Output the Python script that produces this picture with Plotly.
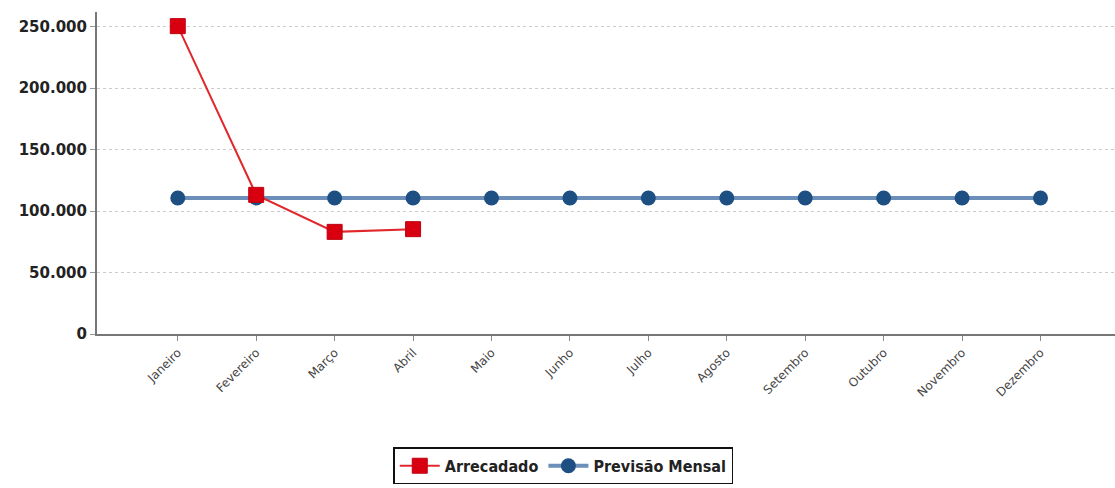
import plotly.graph_objects as go

meses = ["Janeiro", "Fevereiro", "Março", "Abril", "Maio", "Junho", "Julho",
         "Agosto", "Setembro", "Outubro", "Novembro", "Dezembro"]
arrecadado = [250500, 113200, 83100, 85300]
previsao = [110700] * 12
y_ticks = [0, 50000, 100000, 150000, 200000, 250000]

fig = go.Figure()

fig.add_trace(go.Scatter(
    x=meses, y=previsao, name="Previsão Mensal", mode="lines+markers",
    line=dict(color="#6b8fb8", width=4),
    marker=dict(symbol="circle", size=15, color="#1d4f82",
                line=dict(color="#1d4f82", width=0)),
))
fig.add_trace(go.Scatter(
    x=meses[:len(arrecadado)], y=arrecadado, name="Arrecadado", mode="lines+markers",
    line=dict(color="#e0282c", width=2),
    marker=dict(symbol="square", size=15, color="#d80010",
                line=dict(color="#c00010", width=1)),
))

fig.update_layout(
    width=1115, height=488,
    margin=dict(l=97, r=0, t=12, b=154),
    paper_bgcolor="white", plot_bgcolor="white",
    separators=",.",
    showlegend=True,
    legend=dict(
        orientation="h", x=0.458, xanchor="center", y=-0.352, yanchor="top",
        bordercolor="#111111", borderwidth=1.5,
        font=dict(family="DejaVu Sans Condensed, DejaVu Sans", size=16,
                  color="#222222", weight="bold"),
        traceorder="reversed", itemwidth=40,
    ),
    font=dict(family="DejaVu Sans", color="#333333"),
)

fig.update_xaxes(
    type="category", range=[-1.03, 11.95],
    showline=True, linecolor="#777777", linewidth=2,
    ticks="outside", ticklen=5, tickcolor="#888888",
    tickangle=-45, tickfont=dict(family="DejaVu Sans", size=12, color="#444444"),
    showgrid=False,
)
fig.update_yaxes(
    range=[0, 262000], tickvals=y_ticks, tickformat=",d",
    showline=True, linecolor="#777777", linewidth=2,
    ticks="outside", ticklen=5, tickcolor="#999999",
    tickfont=dict(family="DejaVu Sans", size=15, color="#222222", weight="bold"),
    showgrid=True, gridcolor="#cccccc", griddash="dot", gridwidth=1,
    zeroline=False,
)

fig.write_html("out.html")
